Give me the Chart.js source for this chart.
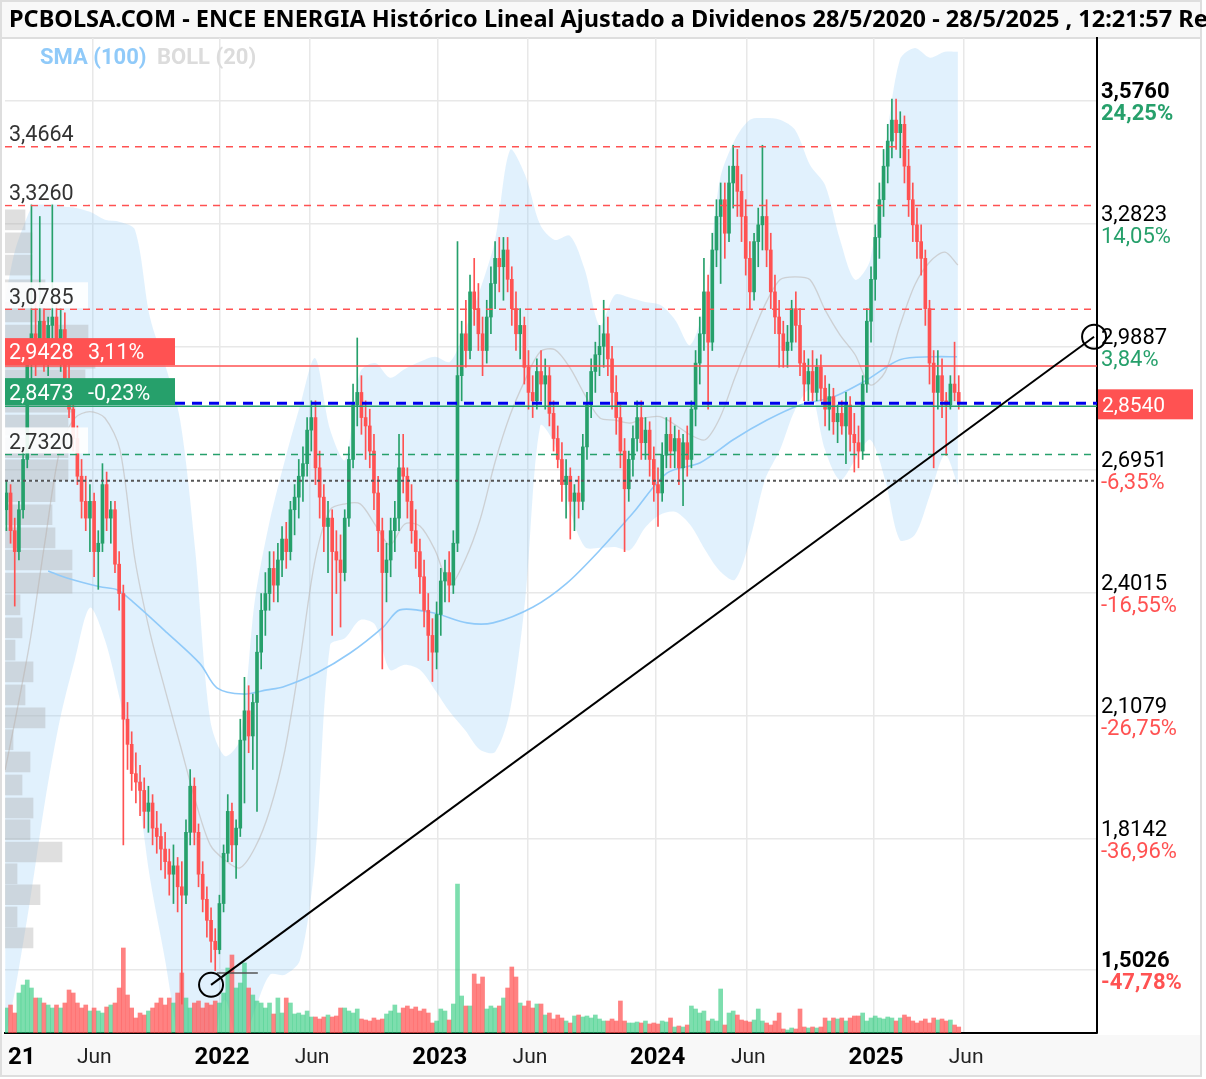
<!DOCTYPE html>
<html>
<head>
<meta charset="utf-8">
<script src="https://cdn.jsdelivr.net/npm/chart.js@4.4.1/dist/chart.umd.min.js"></script>
<style>
	html, body { margin: 0; padding: 0; background: #fff; }
	#chart { display: block; }
</style>
</head>
<body>
<canvas id="chart" width="1206" height="1079"></canvas>
<script>
// weekly candles, week 1 = first week of 2021
//prettier-ignore
const opens = [2.60,2.64,2.55,2.50,2.60,2.72,2.95,3.02,2.98,3.05,2.97,3.04,3.06,2.99,3.03,2.90,2.84,2.77,2.68,2.62,2.58,2.62,2.50,2.52,2.66,2.58,2.60,2.47,2.40,2.10,2.04,1.97,1.95,1.93,1.88,1.90,1.84,1.82,1.79,1.76,1.73,1.75,1.70,1.68,1.83,1.94,1.83,1.73,1.67,1.62,1.57,1.55,1.66,1.78,1.88,1.80,1.84,2.05,2.12,2.06,2.14,2.26,2.36,2.40,2.46,2.42,2.48,2.53,2.50,2.60,2.63,2.68,2.71,2.79,2.82,2.70,2.63,2.56,2.58,2.50,2.48,2.45,2.58,2.72,2.85,2.88,2.82,2.80,2.74,2.64,2.55,2.45,2.48,2.55,2.58,2.70,2.68,2.62,2.55,2.50,2.44,2.36,2.30,2.26,2.35,2.43,2.45,2.42,2.52,2.92,3.02,2.98,3.12,3.08,3.02,2.98,3.06,3.14,3.20,3.18,3.22,3.15,3.08,3.02,3.04,2.94,2.88,2.86,2.93,2.90,2.92,2.83,2.77,2.72,2.66,2.68,2.62,2.64,2.62,2.75,2.85,2.93,2.97,2.99,3.02,2.96,2.88,2.82,2.74,2.65,2.72,2.77,2.82,2.76,2.79,2.72,2.66,2.64,2.73,2.78,2.74,2.77,2.70,2.76,2.72,2.84,2.95,3.02,3.12,3.00,3.22,3.30,3.34,3.26,3.38,3.42,3.36,3.30,3.20,3.12,3.24,3.28,3.30,3.22,3.12,3.06,3.02,2.98,3.00,3.08,3.04,2.95,2.90,2.93,2.88,2.94,2.89,2.84,2.87,2.81,2.83,2.80,2.85,2.78,2.76,2.74,2.90,3.05,3.15,3.25,3.34,3.42,3.48,3.53,3.50,3.52,3.42,3.34,3.28,3.24,3.20,3.08,2.95,2.88,2.92,2.86,2.85,2.90,2.88];
//prettier-ignore
const highs = [2.67,2.66,2.58,2.62,2.74,2.98,3.33,3.10,3.30,3.08,3.06,3.33,3.09,3.08,3.07,2.95,2.86,2.80,2.72,2.68,2.66,2.64,2.55,2.71,2.69,2.62,2.62,2.50,2.42,2.14,2.07,2.02,1.99,1.96,1.94,1.92,1.88,1.85,1.83,1.79,1.80,1.77,1.76,1.86,1.98,1.96,1.85,1.76,1.70,1.65,1.60,1.68,1.80,1.92,1.90,1.86,2.10,2.20,2.18,2.16,2.30,2.40,2.45,2.50,2.50,2.52,2.56,2.57,2.62,2.66,2.72,2.75,2.82,2.86,2.86,2.74,2.66,2.62,2.60,2.55,2.54,2.60,2.75,2.90,3.01,2.92,2.86,2.84,2.78,2.68,2.58,2.52,2.58,2.62,2.78,2.78,2.70,2.66,2.60,2.53,2.48,2.40,2.34,2.38,2.46,2.48,2.50,2.55,3.24,3.05,3.10,3.16,3.20,3.14,3.06,3.10,3.18,3.24,3.25,3.25,3.25,3.18,3.12,3.08,3.06,2.98,2.92,2.96,2.98,2.96,2.94,2.86,2.80,2.76,2.72,2.70,2.66,2.68,2.78,2.88,2.96,3.00,3.04,3.10,3.06,2.99,2.92,2.85,2.77,2.74,2.80,2.86,2.86,2.82,2.81,2.75,2.70,2.76,2.82,2.82,2.80,2.79,2.78,2.80,2.86,2.98,3.06,3.20,3.16,3.26,3.34,3.38,3.38,3.42,3.47,3.46,3.40,3.34,3.24,3.26,3.32,3.47,3.34,3.26,3.16,3.10,3.05,3.04,3.10,3.12,3.08,2.98,2.96,2.98,2.96,2.97,2.92,2.90,2.89,2.85,2.86,2.88,2.87,2.83,2.80,2.92,3.08,3.18,3.28,3.38,3.46,3.52,3.58,3.58,3.55,3.54,3.46,3.38,3.32,3.28,3.22,3.10,2.98,2.98,2.96,2.88,2.92,3.00,2.92];
//prettier-ignore
const lows = [2.55,2.52,2.37,2.48,2.58,2.70,2.90,2.92,2.95,2.93,2.92,2.98,2.96,2.93,2.88,2.82,2.74,2.66,2.58,2.55,2.50,2.44,2.41,2.50,2.55,2.52,2.45,2.36,1.80,1.98,1.93,1.90,1.87,1.84,1.83,1.80,1.78,1.74,1.72,1.68,1.66,1.64,1.42,1.66,1.80,1.80,1.70,1.64,1.58,1.52,1.50,1.54,1.64,1.76,1.76,1.72,1.82,1.90,2.02,1.98,1.88,2.22,2.30,2.36,2.38,2.38,2.44,2.46,2.48,2.54,2.58,2.62,2.68,2.74,2.66,2.58,2.50,2.45,2.30,2.40,2.32,2.43,2.56,2.70,2.80,2.78,2.72,2.70,2.60,2.50,2.22,2.38,2.44,2.50,2.55,2.64,2.58,2.52,2.46,2.40,2.32,2.24,2.19,2.22,2.30,2.38,2.38,2.40,2.50,2.86,2.94,2.96,3.04,2.98,2.92,2.95,3.02,3.08,3.12,3.10,3.12,3.04,2.98,2.96,2.90,2.84,2.82,2.84,2.86,2.84,2.80,2.74,2.70,2.62,2.58,2.53,2.55,2.58,2.60,2.72,2.82,2.88,2.92,2.94,2.92,2.84,2.78,2.70,2.50,2.62,2.68,2.74,2.72,2.72,2.68,2.62,2.56,2.62,2.70,2.70,2.70,2.66,2.61,2.68,2.70,2.80,2.90,2.98,2.84,2.98,3.18,3.14,3.20,3.24,3.32,3.30,3.24,3.16,3.08,3.10,3.18,3.22,3.18,3.08,3.02,2.94,2.94,2.94,2.98,3.00,2.92,2.86,2.86,2.86,2.86,2.86,2.80,2.79,2.78,2.76,2.78,2.71,2.74,2.69,2.70,2.72,2.88,3.00,3.10,3.20,3.30,3.38,3.44,3.46,3.44,3.38,3.30,3.24,3.20,3.16,3.04,2.90,2.70,2.84,2.82,2.73,2.84,2.86,2.84];
//prettier-ignore
const closes = [2.64,2.55,2.50,2.60,2.72,2.95,3.02,2.98,3.05,2.97,3.04,3.06,2.99,3.03,2.90,2.84,2.77,2.68,2.62,2.58,2.62,2.50,2.52,2.66,2.58,2.60,2.47,2.40,2.10,2.04,1.97,1.95,1.93,1.88,1.90,1.84,1.82,1.79,1.76,1.73,1.75,1.70,1.68,1.83,1.94,1.83,1.73,1.67,1.62,1.57,1.55,1.66,1.78,1.88,1.80,1.84,2.05,2.12,2.06,2.14,2.26,2.36,2.40,2.46,2.42,2.48,2.53,2.50,2.60,2.63,2.68,2.71,2.79,2.82,2.70,2.63,2.56,2.58,2.50,2.48,2.45,2.58,2.72,2.85,2.88,2.82,2.80,2.74,2.64,2.55,2.45,2.48,2.55,2.58,2.70,2.68,2.62,2.55,2.50,2.44,2.36,2.30,2.26,2.35,2.43,2.45,2.42,2.52,2.92,3.02,2.98,3.12,3.08,3.02,2.98,3.06,3.14,3.20,3.18,3.22,3.15,3.08,3.02,3.04,2.94,2.88,2.86,2.93,2.90,2.92,2.83,2.77,2.72,2.66,2.68,2.62,2.64,2.62,2.75,2.85,2.93,2.97,2.99,3.02,2.96,2.88,2.82,2.74,2.65,2.72,2.77,2.82,2.76,2.79,2.72,2.66,2.64,2.73,2.78,2.74,2.77,2.70,2.76,2.72,2.84,2.95,3.02,3.12,3.00,3.22,3.30,3.34,3.26,3.38,3.42,3.36,3.30,3.20,3.12,3.24,3.28,3.30,3.22,3.12,3.06,3.02,2.98,3.00,3.08,3.04,2.95,2.90,2.93,2.88,2.94,2.89,2.84,2.87,2.81,2.83,2.80,2.85,2.78,2.76,2.74,2.90,3.05,3.15,3.25,3.34,3.42,3.48,3.53,3.50,3.52,3.42,3.34,3.28,3.24,3.20,3.08,2.95,2.88,2.92,2.86,2.85,2.90,2.88,2.854];
// miles de títulos
//prettier-ignore
const volumes = [500,560,400,800,960,1060,900,700,700,600,560,500,560,500,600,860,800,600,500,560,440,500,440,400,520,560,600,900,1700,760,500,300,400,360,440,500,600,700,560,700,600,800,1200,700,500,600,640,500,600,560,640,600,800,1300,1560,900,1000,1400,900,760,640,600,500,600,380,700,400,700,600,380,400,360,440,320,320,280,320,360,320,340,500,500,440,400,480,280,260,240,300,260,280,380,440,560,400,500,540,480,520,440,480,400,200,240,480,440,260,580,2980,740,540,540,1180,980,1120,480,540,500,540,700,900,1320,1120,600,540,640,500,580,580,360,400,280,360,300,240,200,340,360,320,340,300,360,280,240,240,280,240,640,240,200,200,220,200,240,180,200,180,240,220,300,120,140,120,160,540,480,400,440,240,280,240,880,160,400,440,360,260,240,220,260,480,240,200,160,240,400,80,60,100,80,480,120,100,120,100,120,300,240,300,280,300,240,300,340,340,400,240,300,340,300,280,320,300,240,300,360,320,240,200,240,280,200,300,260,280,240,260,160,120];

// Bollinger (20) and SMA (100)
//prettier-ignore
const bandWeeks = [0.7,3.1,6.7,10.3,13.8,17.4,21.0,24.6,28.2,31.8,35.4,39.0,42.6,46.2,49.8,53.3,56.9,60.5,64.1,67.7,71.3,74.9,78.5,82.1,85.7,89.3,92.8,96.4,100.0,103.6,107.2,110.8,114.4,118.0,121.6,125.2,128.8,132.3,135.9,139.5,143.1,146.7,150.3,153.9,157.5,161.1,164.7,168.3,171.8,175.4,179.0,182.6,186.2,189.8,193.4,197.0,200.6,204.2,207.8,211.4,214.9,218.5,222.1,225.7,228.8];
//prettier-ignore
const bollUpper = [3.101,3.220,3.316,3.387,3.328,3.321,3.311,3.292,3.287,3.268,3.058,2.946,2.814,2.504,2.098,2.012,2.051,2.385,2.576,2.719,2.848,2.962,2.791,2.719,2.929,2.950,2.915,2.936,2.953,2.965,2.953,3.029,3.125,3.244,3.459,3.399,3.280,3.244,3.254,3.172,3.039,3.113,3.106,3.096,3.089,3.053,2.993,3.101,3.387,3.483,3.531,3.535,3.531,3.507,3.423,3.375,3.244,3.149,3.196,3.459,3.674,3.702,3.679,3.693,3.693];
//prettier-ignore
const bollLower = [1.335,1.454,1.669,1.907,2.098,2.242,2.366,2.289,2.146,1.979,1.719,1.525,1.311,1.191,1.287,1.430,1.311,1.406,1.490,1.490,1.525,1.764,2.277,2.294,2.337,2.325,2.218,2.230,2.218,2.170,2.117,2.074,2.027,2.022,2.122,2.385,2.800,2.755,2.600,2.511,2.509,2.511,2.504,2.557,2.588,2.595,2.564,2.504,2.454,2.433,2.528,2.671,2.743,2.838,2.886,2.743,2.671,2.719,2.767,2.671,2.528,2.540,2.635,2.731,2.659];
//prettier-ignore
const bollMid = [1.979,2.098,2.289,2.528,2.743,2.819,2.834,2.819,2.743,2.480,2.306,2.170,2.039,1.907,1.800,1.764,1.745,1.793,1.884,2.027,2.242,2.480,2.600,2.614,2.614,2.564,2.516,2.566,2.561,2.504,2.421,2.480,2.576,2.714,2.826,2.910,2.977,2.982,2.939,2.874,2.819,2.814,2.807,2.819,2.822,2.803,2.779,2.767,2.819,2.915,3.005,3.089,3.149,3.156,3.149,3.077,3.017,2.970,2.898,2.929,3.039,3.137,3.192,3.215,3.184];
//prettier-ignore
const smaWeeks = [11.0,15.5,23.4,27.5,31.3,39.5,47.4,51.4,57.7,63.4,67.2,75.4,83.3,91.2,95.2,103.1,111.3,117.5,127.1,135.2,143.1,151.0,159.2,167.1,175.0,183.1,191.0,198.9,207.0,214.9,222.8,228.6];
//prettier-ignore
const sma100 = [2.454,2.437,2.416,2.409,2.380,2.306,2.232,2.175,2.160,2.170,2.177,2.211,2.258,2.320,2.361,2.354,2.330,2.330,2.368,2.425,2.504,2.592,2.688,2.712,2.767,2.814,2.850,2.869,2.910,2.958,2.965,2.965];

// volume profile (price level -> relative volume)
//prettier-ignore
const profilePrices = [3.292,3.237,3.184,3.125,3.072,3.017,2.962,2.910,2.857,2.802,2.748,2.695,2.643,2.588,2.533,2.480,2.425,2.373,2.318,2.265,2.213,2.158,2.103,2.051,1.998,1.943,1.888,1.836,1.783,1.731,1.681,1.628,1.578];
//prettier-ignore
const profileVolumes = [2.0,2.7,2.7,4.0,4.5,8.3,9.0,8.0,7.0,6.3,6.3,6.3,5.0,4.7,5.0,6.7,6.7,1.5,1.7,1.0,2.8,2.0,4.0,0.8,2.5,1.7,2.8,2.5,5.7,1.2,3.5,1.2,2.8];

// right axis
const priceTicks = [3.576, 3.2823, 2.9887, 2.6951, 2.4015, 2.1079, 1.8142, 1.5026];
const priceTickLabels = ["3,5760", "3,2823", "2,9887", "2,6951", "2,4015", "2,1079", "1,8142", "1,5026"];
const priceTickPct = ["24,25%", "14,05%", "3,84%", "-6,35%", "-16,55%", "-26,75%", "-36,96%", "-47,78%"];

// bottom axis (weeks since 1/1/2021)
const xTickWeeks = [0, 21.57, 52.14, 73.71, 104.29, 125.86, 156.43, 178.14, 208.71, 230.29];
const xTickLabels = ["2021", "Jun", "2022", "Jun", "2023", "Jun", "2024", "Jun", "2025", "Jun"];

// horizontal levels
const resistLevels = [3.4664, 3.326, 3.0785];
const resistLabels = ["3,4664", "3,3260", "3,0785"];
const supportLevels = [2.732];
const supportLabels = ["2,7320"];
const maxLevel = 2.9428;
const minLevel = 2.8473;
const lastPrice = 2.854;
const refLevel = 2.669;

// trend line drawn by the user
const trendWeeks = [50.0, 261.4];
const trendPrices = [1.466, 3.013];
const markWeeks = [51.4, 61.2];
const markPrices = [1.494, 1.494];

const X_MIN = 0.67;
const X_MAX = 262.1;
const GREEN = "#26a06b";
const RED = "#ff5252";
const FONT = "Roboto";

const weeks = closes.map((_, i) => i + 1);
const isUp = closes.map((c, i) => c >= opens[i]);
const candleColor = (ctx) => (isUp[ctx.dataIndex] ? GREEN : RED);

const hline = (value, color, dash, width) => ({
	type: "line",
	data: [
		{ x: X_MIN, y: value },
		{ x: X_MAX, y: value },
	],
	borderColor: color,
	borderWidth: width,
	borderDash: dash,
	pointRadius: 0,
	order: 2,
});

const decor = {
	id: "decor",
	beforeDraw(chart) {
		const { ctx, width } = chart;
		ctx.save();
		ctx.fillStyle = "#fff";
		ctx.fillRect(0, 0, width, chart.height);
		ctx.fillStyle = "#f8f8f8";
		ctx.fillRect(0, 0, 1201, 38);
		ctx.fillRect(0, 1035, 1201, 41);
		ctx.strokeStyle = "#dedede";
		ctx.lineWidth = 2;
		ctx.strokeRect(1, 1, 1200, 1075);
		ctx.beginPath();
		ctx.moveTo(0, 38);
		ctx.lineTo(1201, 38);
		ctx.stroke();
		ctx.fillStyle = "#000";
		ctx.font = 'bold 23.5px "Noto Sans"';
		ctx.textBaseline = "middle";
		ctx.fillText(
			"PCBOLSA.COM - ENCE ENERGIA Histórico Lineal Ajustado a Dividenos 28/5/2020 - 28/5/2025 , 12:21:57 Re",
			9,
			20,
		);
		ctx.restore();
	},
	afterDatasetsDraw(chart) {
		const { ctx } = chart;
		const y = chart.scales.y;
		ctx.save();
		ctx.textBaseline = "middle";
		ctx.font = `21.5px ${FONT}`;
		const plainLabel = (value, text) => {
			const py = y.getPixelForValue(value);
			ctx.fillStyle = "rgba(255,255,255,0.9)";
			ctx.fillRect(5, py - 27, 83, 26);
			ctx.fillStyle = "#333";
			ctx.fillText(text, 9, py - 11);
		};
		resistLevels.forEach((v, i) => plainLabel(v, resistLabels[i]));
		supportLevels.forEach((v, i) => plainLabel(v, supportLabels[i]));
		const boxLabel = (value, bg, text, pct) => {
			const py = y.getPixelForValue(value);
			ctx.fillStyle = bg;
			ctx.fillRect(5, py - 28, 170, 27);
			ctx.fillStyle = "#fff";
			ctx.fillText(text, 9, py - 12);
			ctx.fillText(pct, 88, py - 12);
		};
		boxLabel(maxLevel, RED, "2,9428", "3,11%");
		boxLabel(minLevel, GREEN, "2,8473", "-0,23%");

		ctx.font = `bold 22px ${FONT}`;
		ctx.fillStyle = "#90caf9";
		ctx.fillText("SMA (100)", 40, 58);
		ctx.fillStyle = "#dcdcdc";
		ctx.fillText("BOLL (20)", 157, 58);
		ctx.restore();
	},
	afterDraw(chart) {
		const { ctx } = chart;
		const y = chart.scales.y;
		const x = chart.scales.x;
		ctx.save();
		ctx.textBaseline = "middle";
		priceTicks.forEach((v, i) => {
			const py = y.getPixelForValue(v);
			const bold = i === 0 || i === priceTicks.length - 1 ? "bold " : "";
			ctx.font = `${bold}22px ${FONT}`;
			ctx.fillStyle = "#000";
			ctx.fillText(priceTickLabels[i], 1101, py - 8);
			ctx.fillStyle = priceTickPct[i].startsWith("-") ? RED : GREEN;
			ctx.fillText(priceTickPct[i], 1101, py + 14);
		});
		const lp = y.getPixelForValue(lastPrice);
		ctx.fillStyle = RED;
		ctx.fillRect(1098, lp - 14, 95, 30);
		ctx.fillStyle = "#fff";
		ctx.font = `21px ${FONT}`;
		ctx.fillText("2,8540", 1102, lp + 3);

		// bottom labels, the first one is cut by the left edge of the plot
		ctx.beginPath();
		ctx.rect(7, 1036, 1190, 40);
		ctx.clip();
		ctx.textAlign = "center";
		xTickWeeks.forEach((w, i) => {
			const px = Math.max(x.getPixelForValue(w) + 2, 8);
			const year = /^\d+$/.test(xTickLabels[i]);
			ctx.font = year ? `bold 24px ${FONT}` : `21px ${FONT}`;
			ctx.fillStyle = year ? "#000" : "#222";
			ctx.fillText(xTickLabels[i], px, 1058);
		});
		ctx.restore();
	},
};

new Chart(document.getElementById("chart"), {
	type: "bar",
	data: {
		datasets: [
			{
				type: "line",
				data: bandWeeks.map((w, i) => ({ x: w, y: bollUpper[i] })),
				borderWidth: 0,
				pointRadius: 0,
				tension: 0.3,
				fill: "+1",
				backgroundColor: "rgba(144,202,249,0.27)",
				order: 9,
			},
			{
				type: "line",
				data: bandWeeks.map((w, i) => ({ x: w, y: bollLower[i] })),
				borderWidth: 0,
				pointRadius: 0,
				tension: 0.3,
				fill: false,
				order: 9,
			},
			{
				type: "bar",
				indexAxis: "y",
				xAxisID: "xProf",
				yAxisID: "y",
				data: profilePrices.map((p, i) => ({ x: profileVolumes[i], y: p })),
				backgroundColor: "rgba(170,170,170,0.38)",
				barThickness: 20,
				grouped: false,
				order: 8,
			},
			{
				type: "bar",
				yAxisID: "yVol",
				data: weeks.map((w, i) => ({ x: w, y: volumes[i] })),
				backgroundColor: (ctx) => (isUp[ctx.dataIndex] ? "rgba(38,200,120,0.6)" : "rgba(255,82,82,0.72)"),
				barThickness: 4,
				grouped: false,
				order: 7,
			},
			{
				type: "line",
				data: bandWeeks.map((w, i) => ({ x: w, y: bollMid[i] })),
				borderColor: "rgba(185,175,170,0.5)",
				borderWidth: 1.3,
				pointRadius: 0,
				tension: 0.3,
				order: 6,
			},
			{
				type: "line",
				data: smaWeeks.map((w, i) => ({ x: w, y: sma100[i] })),
				borderColor: "#90caf9",
				borderWidth: 1.6,
				pointRadius: 0,
				tension: 0.3,
				order: 5,
			},
			{
				type: "bar",
				data: weeks.map((w, i) => ({ x: w, y: [lows[i], highs[i]] })),
				backgroundColor: candleColor,
				barThickness: 1,
				grouped: false,
				order: 4,
			},
			{
				type: "bar",
				data: weeks.map((w, i) => ({ x: w, y: [opens[i], closes[i]] })),
				backgroundColor: candleColor,
				barThickness: 3,
				minBarLength: 1,
				grouped: false,
				order: 3,
			},
			...resistLevels.map((v) => hline(v, RED, [7, 6], 1.5)),
			...supportLevels.map((v) => hline(v, GREEN, [7, 6], 1.5)),
			hline(refLevel, "#555", [3, 3], 2),
			hline(maxLevel, RED, [], 1.5),
			hline(minLevel, GREEN, [], 1.5),
			hline(lastPrice, "#0000ee", [10, 7], 3),
			{
				type: "line",
				data: markWeeks.map((w, i) => ({ x: w, y: markPrices[i] })),
				borderColor: "#555",
				borderWidth: 1.5,
				pointRadius: 0,
				order: 1,
			},
			{
				type: "line",
				data: trendWeeks.map((w, i) => ({ x: w, y: trendPrices[i] })),
				borderColor: "#000",
				borderWidth: 2,
				pointRadius: 12,
				pointBorderWidth: 2,
				pointBorderColor: "#000",
				pointBackgroundColor: "rgba(0,0,0,0)",
				clip: false,
				order: 0,
			},
		],
	},
	options: {
		responsive: false,
		animation: false,
		devicePixelRatio: 1,
		layout: { autoPadding: false, padding: { left: 5, right: 109, top: 38, bottom: 46 } },
		plugins: { legend: { display: false }, tooltip: { enabled: false }, title: { display: false } },
		scales: {
			x: {
				type: "linear",
				min: X_MIN,
				max: X_MAX,
				offset: false,
				afterBuildTicks: (scale) => {
					scale.ticks = xTickWeeks.filter((w) => w > X_MIN).map((w) => ({ value: w }));
				},
				ticks: { display: false },
				grid: { color: "#e8e8e8", lineWidth: 1.5, drawTicks: false, offset: false },
				border: { display: true, color: "#000", width: 2 },
			},
			y: {
				type: "linear",
				position: "right",
				min: 1.351,
				max: 3.726,
				offset: false,
				afterBuildTicks: (scale) => {
					scale.ticks = priceTicks.map((v) => ({ value: v }));
				},
				ticks: { display: false },
				grid: { color: "#e8e8e8", lineWidth: 1.5, drawTicks: false, offset: false },
				border: { display: true, color: "#000", width: 2 },
			},
			yVol: { type: "linear", display: false, min: 0, max: 19900 },
			xProf: { type: "linear", display: false, min: 0, max: 109.2, offset: false },
		},
	},
	plugins: [decor],
});
</script>
</body>
</html>
